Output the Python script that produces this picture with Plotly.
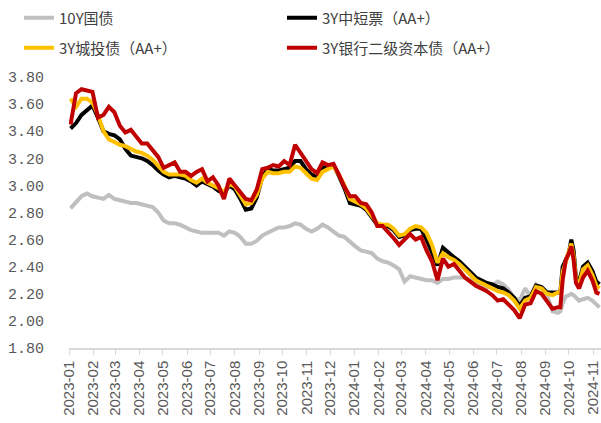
import plotly.graph_objects as go

# Weekly observation dates (plus denser sampling around the Sep/Oct 2024 swing)
dates = [
    "2023-01-03", "2023-01-10", "2023-01-17", "2023-01-24", "2023-01-31",
    "2023-02-07", "2023-02-14", "2023-02-21", "2023-02-28",
    "2023-03-07", "2023-03-14", "2023-03-21", "2023-03-28",
    "2023-04-04", "2023-04-11", "2023-04-18", "2023-04-25",
    "2023-05-02", "2023-05-09", "2023-05-16", "2023-05-23", "2023-05-30",
    "2023-06-06", "2023-06-13", "2023-06-20", "2023-06-27",
    "2023-07-04", "2023-07-11", "2023-07-18", "2023-07-25",
    "2023-08-01", "2023-08-08", "2023-08-15", "2023-08-22", "2023-08-29",
    "2023-09-05", "2023-09-12", "2023-09-19", "2023-09-26",
    "2023-10-03", "2023-10-10", "2023-10-17", "2023-10-24", "2023-10-31",
    "2023-11-07", "2023-11-14", "2023-11-21", "2023-11-28",
    "2023-12-05", "2023-12-12", "2023-12-19", "2023-12-26",
    "2024-01-02", "2024-01-09", "2024-01-16", "2024-01-23", "2024-01-30",
    "2024-02-06", "2024-02-13", "2024-02-20", "2024-02-27",
    "2024-03-05", "2024-03-12", "2024-03-19", "2024-03-26",
    "2024-04-02", "2024-04-09", "2024-04-16", "2024-04-23", "2024-04-30",
    "2024-05-07", "2024-05-14", "2024-05-21", "2024-05-28",
    "2024-06-04", "2024-06-11", "2024-06-18", "2024-06-25",
    "2024-07-02", "2024-07-09", "2024-07-16", "2024-07-23", "2024-07-30",
    "2024-08-06", "2024-08-13", "2024-08-20", "2024-08-27",
    "2024-09-03", "2024-09-10", "2024-09-17", "2024-09-20", "2024-09-23",
    "2024-09-27", "2024-10-01", "2024-10-04", "2024-10-07", "2024-10-10",
    "2024-10-14", "2024-10-19", "2024-10-25", "2024-10-31", "2024-11-05",
    "2024-11-09",
]

# 10Y government bond yield (%)
gov_10y = [
    2.83, 2.88, 2.92, 2.94, 2.92, 2.91, 2.90, 2.93, 2.90, 2.89, 2.88, 2.87, 2.87,
    2.86, 2.85, 2.84, 2.80, 2.74, 2.72, 2.72, 2.71, 2.69, 2.67, 2.66, 2.65, 2.65,
    2.65, 2.65, 2.63, 2.66, 2.65, 2.62, 2.57, 2.57, 2.59, 2.63, 2.65, 2.67, 2.69,
    2.69, 2.70, 2.72, 2.71, 2.68, 2.66, 2.68, 2.71, 2.69, 2.66, 2.63, 2.62, 2.58,
    2.55, 2.52, 2.51, 2.50, 2.46, 2.44, 2.43, 2.41, 2.38, 2.29, 2.33, 2.32, 2.31,
    2.30, 2.30, 2.28, 2.31, 2.31, 2.32, 2.32, 2.32, 2.30, 2.28, 2.27, 2.25, 2.26,
    2.29, 2.27, 2.23, 2.17, 2.15, 2.24, 2.18, 2.27, 2.24, 2.19, 2.07, 2.06,
    2.07, 2.13, 2.18, 2.19, 2.20, 2.19, 2.17, 2.15, 2.16, 2.17, 2.15, 2.12, 2.10,
]

# 3Y medium-term notes, AA+ (%)
mtn_3y = [
    3.42, 3.46, 3.52, 3.56, 3.59, 3.50, 3.40, 3.38, 3.37, 3.34, 3.27, 3.22, 3.21,
    3.20, 3.18, 3.15, 3.11, 3.08, 3.06, 3.07, 3.06, 3.05, 3.03, 3.00, 3.03, 3.01,
    2.99, 2.96, 2.94, 3.00, 2.97, 2.90, 2.82, 2.83, 2.91, 3.06, 3.12, 3.11, 3.11,
    3.12, 3.13, 3.18, 3.18, 3.12, 3.08, 3.06, 3.13, 3.14, 3.15, 3.07, 2.98, 2.87,
    2.86, 2.85, 2.82, 2.77, 2.71, 2.70, 2.70, 2.67, 2.62, 2.63, 2.67, 2.68, 2.68,
    2.60, 2.50, 2.41, 2.54, 2.50, 2.47, 2.44, 2.40, 2.35, 2.32, 2.30, 2.28, 2.27,
    2.25, 2.24, 2.21, 2.17, 2.11, 2.17, 2.18, 2.26, 2.25, 2.21, 2.21, 2.21,
    2.21, 2.40, 2.46, 2.50, 2.60, 2.52, 2.32, 2.29, 2.40, 2.43, 2.37, 2.29, 2.27,
]

# 3Y LGFV (urban investment) bonds, AA+ (%)
lgfv_3y = [
    3.64, 3.58, 3.64, 3.64, 3.61, 3.52, 3.40, 3.34, 3.32, 3.30, 3.29, 3.27, 3.25,
    3.24, 3.22, 3.19, 3.15, 3.10, 3.08, 3.08, 3.08, 3.07, 3.04, 3.02, 3.05, 3.02,
    3.00, 2.98, 2.95, 3.01, 2.99, 2.92, 2.86, 2.87, 2.93, 3.05, 3.10, 3.09, 3.09,
    3.10, 3.10, 3.14, 3.13, 3.09, 3.05, 3.04, 3.10, 3.12, 3.14, 3.08, 3.00, 2.90,
    2.88, 2.86, 2.83, 2.78, 2.72, 2.71, 2.71, 2.68, 2.63, 2.64, 2.68, 2.70, 2.69,
    2.65, 2.56, 2.43, 2.50, 2.47, 2.45, 2.42, 2.38, 2.33, 2.30, 2.28, 2.26, 2.24,
    2.22, 2.21, 2.19, 2.15, 2.09, 2.15, 2.17, 2.25, 2.24, 2.20, 2.19, 2.21,
    2.21, 2.36, 2.44, 2.50, 2.57, 2.48, 2.30, 2.27, 2.38, 2.41, 2.34, 2.26, 2.24,
]

# 3Y bank Tier-2 capital bonds, AA+ (%)
bank_t2_3y = [
    3.45, 3.68, 3.71, 3.70, 3.69, 3.50, 3.52, 3.58, 3.54, 3.44, 3.39, 3.41, 3.36,
    3.31, 3.31, 3.26, 3.21, 3.13, 3.15, 3.17, 3.10, 3.10, 3.07, 3.10, 3.12, 3.03,
    3.06, 3.00, 2.90, 3.05, 3.00, 2.95, 2.90, 2.89, 2.97, 3.12, 3.13, 3.15, 3.14,
    3.18, 3.15, 3.30, 3.24, 3.17, 3.12, 3.09, 3.17, 3.15, 3.16, 3.08, 2.99, 2.92,
    2.92, 2.87, 2.86, 2.80, 2.70, 2.70, 2.66, 2.61, 2.56, 2.60, 2.64, 2.60, 2.62,
    2.52, 2.44, 2.30, 2.46, 2.40, 2.42, 2.37, 2.32, 2.29, 2.26, 2.24, 2.22, 2.19,
    2.15, 2.16, 2.12, 2.08, 2.02, 2.12, 2.13, 2.22, 2.20, 2.15, 2.09, 2.10,
    2.10, 2.30, 2.45, 2.50, 2.55, 2.45, 2.28, 2.24, 2.32, 2.37, 2.30, 2.21, 2.20,
]

# name, values, colour, legend id, legend anchor (x, y) in container pixels
series = [
    ("10Y国债", gov_10y, "#BFBFBF", "legend", (19, 18)),
    ("3Y中短票（AA+）", mtn_3y, "#000000", "legend2", (282, 18)),
    ("3Y城投债（AA+）", lgfv_3y, "#FFC000", "legend3", (19, 48)),
    ("3Y银行二级资本债（AA+）", bank_t2_3y, "#C00000", "legend4", (282, 48)),
]

W, H = 601, 423

fig = go.Figure()
legend_layouts = {}
for name, values, color, leg, (lx, ly) in series:
    fig.add_trace(go.Scatter(
        x=dates, y=values, name=name, mode="lines",
        line=dict(color=color, width=4),
        legend=leg,
    ))
    legend_layouts[leg] = dict(
        xref="container", yref="container",
        x=lx / W, y=1 - ly / H, xanchor="left", yanchor="middle",
        font=dict(family="Noto Sans CJK SC", size=15, color="#404040"),
        bgcolor="rgba(0,0,0,0)", borderwidth=0,
    )

fig.update_layout(
    width=W, height=H,
    margin=dict(l=69, r=0, t=77, b=75, autoexpand=False),
    paper_bgcolor="white", plot_bgcolor="white",
    showlegend=True,
    **legend_layouts,
    xaxis=dict(
        type="date",
        range=["2023-01-01", "2024-11-11"],
        tick0="2023-01-01", dtick="M1", tickformat="%Y-%m",
        tickangle=-90, ticklabeloverflow="allow",
        ticks="outside", ticklen=5, tickcolor="#D9D9D9", tickwidth=1,
        showline=True, linecolor="#D9D9D9", linewidth=1.5,
        showgrid=False, zeroline=False, automargin=False,
        tickfont=dict(family="Liberation Sans", size=15, color="#595959"),
    ),
    yaxis=dict(
        range=[1.8, 3.8], tick0=1.8, dtick=0.2, tickformat=".2f",
        showgrid=False, zeroline=False, showline=False, ticks="",
        ticklabelstandoff=24, automargin=False,
        tickfont=dict(family="Liberation Mono", size=15, color="#595959"),
    ),
)

fig.write_html("out.html")
